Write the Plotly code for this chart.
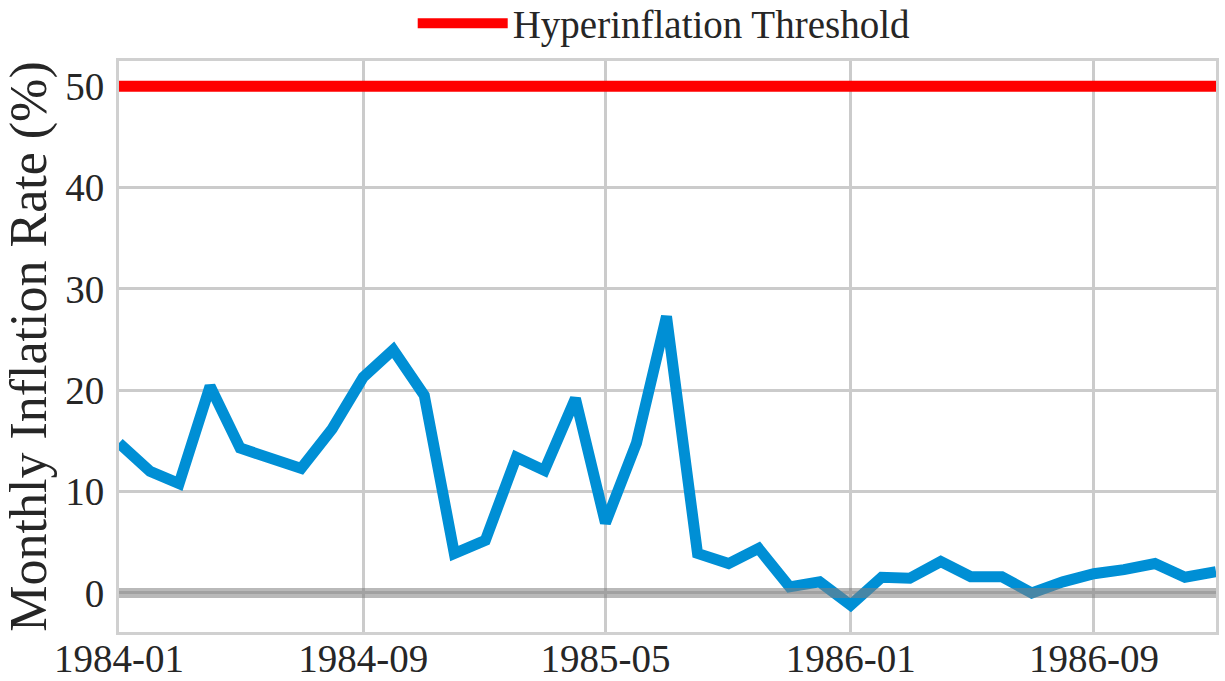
import plotly.graph_objects as go
import pandas as pd

months = pd.date_range("1984-01-01", "1987-01-01", freq="MS").strftime("%Y-%m-%d").tolist()
inflation = [14.8, 12.0, 10.8, 20.4, 14.3, 13.3, 12.3, 16.2, 21.3, 24.0, 19.5, 3.9,
             5.2, 13.4, 12.1, 19.2, 6.9, 14.8, 27.3, 3.9, 2.9, 4.4, 0.6, 1.1,
             -1.2, 1.55, 1.45, 3.1, 1.6, 1.6, 0.0, 1.1, 1.9, 2.3, 2.9, 1.55, 2.1]
threshold_value = 50
threshold_label = "Hyperinflation Threshold"
y_ticks = [0, 10, 20, 30, 40, 50]

FONT = "Liberation Serif"
TXT = "#262626"
GRID = "#cbcbcb"
TICK_SIZE = 39

fig = go.Figure()
fig.add_trace(go.Scatter(
    x=months, y=inflation, mode="lines",
    line=dict(color="#008fd5", width=11), showlegend=False, hoverinfo="skip"))
fig.add_trace(go.Scatter(
    x=[months[0], months[-1]], y=[0, 0], mode="lines",
    line=dict(color="rgba(128,128,128,0.55)", width=10), showlegend=False))
fig.add_trace(go.Scatter(
    x=[months[0], months[-1]], y=[threshold_value, threshold_value], mode="lines",
    line=dict(color="#ff0000", width=11), name=threshold_label))

fig.update_layout(
    width=1225, height=681,
    margin=dict(l=119, r=9, t=61, b=49, autoexpand=False),
    plot_bgcolor="white", paper_bgcolor="white",
    font=dict(family=FONT, color=TXT, size=TICK_SIZE),
    legend=dict(orientation="h", x=0.497, xanchor="center", y=1.01, yanchor="bottom",
                font=dict(size=TICK_SIZE, family=FONT, color=TXT), itemwidth=90,
                bgcolor="rgba(0,0,0,0)"),
    xaxis=dict(
        range=[months[0], months[-1]], type="date",
        tick0="1984-01-01", dtick="M8", tickformat="%Y-%m",
        showgrid=True, gridcolor=GRID, gridwidth=2.5,
        showline=True, linecolor="#d0d0d0", linewidth=3, mirror=True,
        ticks="", zeroline=False, automargin=False, ticklabelstandoff=-10,
        tickfont=dict(size=TICK_SIZE, family=FONT, color=TXT)),
    yaxis=dict(
        range=[-3.85, 52.5], tickvals=y_ticks,
        showgrid=True, gridcolor=GRID, gridwidth=2.5,
        showline=True, linecolor="#d0d0d0", linewidth=3, mirror=True,
        ticks="", zeroline=False, automargin=False, ticklabelstandoff=4,
        tickfont=dict(size=TICK_SIZE, family=FONT, color=TXT),
        title=dict(text="Monthly Inflation Rate (%)", font=dict(size=52, family=FONT, color=TXT),
                   standoff=12)),
)

fig.write_html("out.html", config={"displayModeBar": False},
               post_script="document.body.style.margin='0';")
